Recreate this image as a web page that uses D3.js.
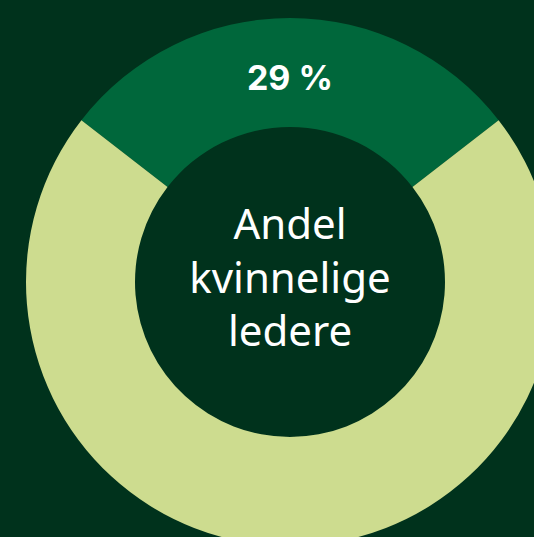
<!DOCTYPE html>
<html><head><meta charset="utf-8">
<script src="https://cdn.jsdelivr.net/npm/d3@7"></script>
<style>body{margin:0;background:#00321c;}svg{display:block;}</style>
</head><body>
<script>
const categories = ["Kvinner", "Menn"];
const values = [29, 71];
const labels = ["29 %", ""];
const colors = ["#00673b", "#cddc8f"];
const centerLines = ["Andel", "kvinnelige", "ledere"];

const W = 534, H = 537, cx = 290, cy = 282, rOuter = 264, rInner = 155;
const svg = d3.select("body").append("svg").attr("width", W).attr("height", H);
svg.append("rect").attr("width", W).attr("height", H).attr("fill", "#00321c");
const g = svg.append("g").attr("transform", `translate(${cx},${cy})`);
const total = d3.sum(values);
const pie = d3.pie().sort(null).value(d => d)
  .startAngle(-Math.PI * values[0] / total).endAngle(2 * Math.PI - Math.PI * values[0] / total);
const arc = d3.arc().innerRadius(rInner).outerRadius(rOuter);
const arcs = pie(values);
g.selectAll("path").data(arcs).join("path").attr("d", arc).attr("fill", (d, i) => colors[i]);
g.selectAll("text.lab").data(arcs).join("text").attr("class", "lab")
  .attr("x", d => arc.centroid(d)[0]).attr("y", d => arc.centroid(d)[1] + 17.5)
  .attr("text-anchor", "middle")
  .attr("fill", "#ffffff").attr("font-family", "Inter, 'Noto Sans', sans-serif")
  .attr("font-weight", 700).attr("font-size", 34)
  .text((d, i) => labels[i]);
g.selectAll("text.c").data(centerLines).join("text").attr("class", "c")
  .attr("x", 0).attr("y", (d, i) => -43 + i * 53.5)
  .attr("text-anchor", "middle")
  .attr("fill", "#ffffff").attr("font-family", "'Noto Sans', sans-serif")
  .attr("font-weight", 400).attr("font-size", 42)
  .text(d => d);
</script>
</body></html>
